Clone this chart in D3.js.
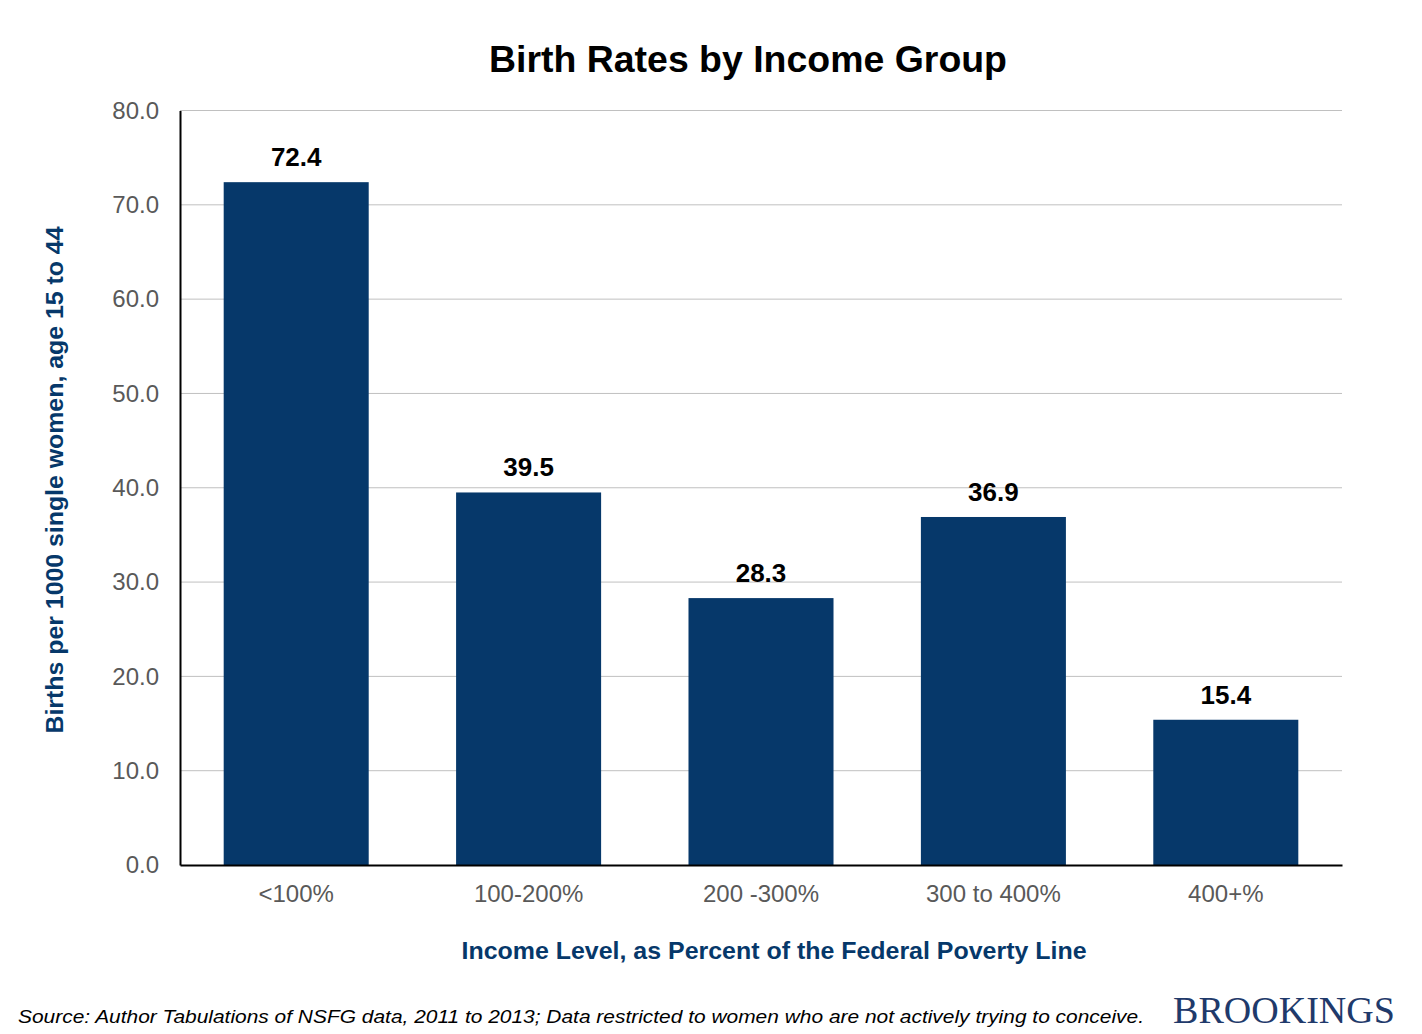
<!DOCTYPE html>
<html>
<head>
<meta charset="utf-8">
<script src="https://d3js.org/d3.v7.min.js"></script>
<style>
  body { margin: 0; background: #fff; }
  text { font-family: "Liberation Sans", Arial, sans-serif; }
</style>
</head>
<body>
<svg id="chart" width="1422" height="1034"></svg>
<script>
// data
var groups = ["<100%", "100-200%", "200 -300%", "300 to 400%", "400+%"];
var rates = [72.4, 39.5, 28.3, 36.9, 15.4];
var yTicks = [0, 10, 20, 30, 40, 50, 60, 70, 80];

var svg = d3.select("#chart");
var plotLeft = 180, plotRight = 1342, plotTop = 110.5, plotBottom = 865;
var navy = "#06386a";

var x = d3.scaleBand()
    .domain(groups)
    .range([plotLeft, plotRight])
    .paddingInner(0.376)
    .paddingOuter(0.188);

var y = d3.scaleLinear()
    .domain([0, 80])
    .range([plotBottom, plotTop]);

// gridlines
svg.append("g")
    .selectAll("line")
    .data(yTicks.filter(function (d) { return d > 0; }))
    .enter()
    .append("line")
    .attr("x1", plotLeft)
    .attr("x2", plotRight)
    .attr("y1", function (d) { return y(d); })
    .attr("y2", function (d) { return y(d); })
    .attr("stroke", "#c0c0c0")
    .attr("stroke-width", 1);

// bars
svg.append("g")
    .selectAll("rect")
    .data(rates)
    .enter()
    .append("rect")
    .attr("x", function (d, i) { return x(groups[i]); })
    .attr("y", function (d) { return y(d); })
    .attr("width", x.bandwidth())
    .attr("height", function (d) { return plotBottom - y(d); })
    .attr("fill", navy);

// value labels
svg.append("g")
    .selectAll("text")
    .data(rates)
    .enter()
    .append("text")
    .attr("x", function (d, i) { return x(groups[i]) + x.bandwidth() / 2; })
    .attr("y", function (d) { return y(d) - 16; })
    .attr("text-anchor", "middle")
    .style("font-size", "26px")
    .style("font-weight", "bold")
    .attr("fill", "#000")
    .text(function (d) { return d.toFixed(1); });

// y axis
var yAxis = svg.append("g")
    .attr("transform", "translate(" + plotLeft + ",0)")
    .call(d3.axisLeft(y).tickValues(yTicks).tickSize(0).tickPadding(21).tickFormat(d3.format(".1f")));
yAxis.select(".domain").attr("stroke", "#000").attr("stroke-width", 2);
yAxis.selectAll("text")
    .style("font-size", "24px")
    .style("font-family", "Liberation Sans, Arial, sans-serif")
    .attr("fill", "#595959");

// x axis
var xAxis = svg.append("g")
    .attr("transform", "translate(0," + plotBottom + ")")
    .call(d3.axisBottom(x).tickSize(0).tickPadding(20));
xAxis.select(".domain").attr("stroke", "#000").attr("stroke-width", 2);
xAxis.selectAll("text")
    .style("font-size", "24px")
    .style("font-family", "Liberation Sans, Arial, sans-serif")
    .attr("fill", "#595959");

// title
svg.append("text")
    .attr("x", 748)
    .attr("y", 72)
    .attr("text-anchor", "middle")
    .style("font-size", "37px")
    .style("font-weight", "bold")
    .attr("textLength", 518)
    .attr("lengthAdjust", "spacingAndGlyphs")
    .attr("fill", "#000")
    .text("Birth Rates by Income Group");

// axis titles
svg.append("text")
    .attr("text-anchor", "middle")
    .attr("transform", "translate(63,480)rotate(-90)")
    .style("font-size", "24px")
    .style("font-weight", "bold")
    .attr("textLength", 507)
    .attr("lengthAdjust", "spacingAndGlyphs")
    .attr("fill", navy)
    .text("Births per 1000 single women, age 15 to 44");

svg.append("text")
    .attr("x", 774)
    .attr("y", 959)
    .attr("text-anchor", "middle")
    .style("font-size", "24px")
    .style("font-weight", "bold")
    .attr("textLength", 625)
    .attr("lengthAdjust", "spacingAndGlyphs")
    .attr("fill", navy)
    .text("Income Level, as Percent of the Federal Poverty Line");

// source
svg.append("text")
    .attr("x", 18)
    .attr("y", 1023)
    .style("font-size", "19px")
    .style("font-style", "italic")
    .attr("textLength", 1126)
    .attr("lengthAdjust", "spacingAndGlyphs")
    .attr("fill", "#000")
    .text("Source: Author Tabulations of NSFG data, 2011 to 2013; Data restricted to women who are not actively trying to conceive.");

svg.append("text")
    .attr("x", 1173)
    .attr("y", 1023)
    .style("font-family", "Liberation Serif, Times New Roman, serif")
    .style("font-size", "38px")
    .attr("textLength", 222)
    .attr("lengthAdjust", "spacingAndGlyphs")
    .attr("fill", "#1f3a6b")
    .text("BROOKINGS");
</script>
</body>
</html>
